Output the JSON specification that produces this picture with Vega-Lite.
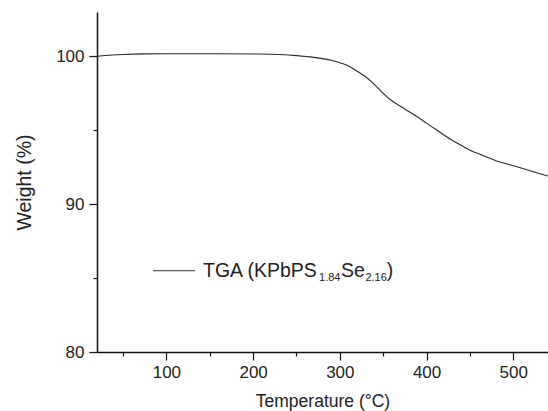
{
  "$schema": "https://vega.github.io/schema/vega-lite/v6.json",
  "width": 451,
  "height": 340,
  "autosize": {"type": "none"},
  "padding": {"left": 97, "top": 12, "right": 0, "bottom": 59},
  "background": "white",
  "config": {
    "view": {"stroke": null},
    "font": "Liberation Sans",
    "axis": {
      "grid": false,
      "domainColor": "#111",
      "domainWidth": 1.5,
      "tickColor": "#111",
      "tickWidth": 1.2,
      "labelFont": "Liberation Sans",
      "labelFontSize": 17,
      "labelColor": "#222",
      "titleFont": "Liberation Sans",
      "titleFontWeight": "normal",
      "titleColor": "#222"
    }
  },
  "datasets": {
    "tga": [
      {"temperature": 20, "weight": 100.0},
      {"temperature": 30, "weight": 100.06},
      {"temperature": 50, "weight": 100.13},
      {"temperature": 75, "weight": 100.17},
      {"temperature": 100, "weight": 100.18},
      {"temperature": 130, "weight": 100.18},
      {"temperature": 160, "weight": 100.18},
      {"temperature": 200, "weight": 100.16},
      {"temperature": 230, "weight": 100.12},
      {"temperature": 250, "weight": 100.05},
      {"temperature": 270, "weight": 99.93},
      {"temperature": 290, "weight": 99.73},
      {"temperature": 300, "weight": 99.57},
      {"temperature": 310, "weight": 99.35},
      {"temperature": 320, "weight": 98.99},
      {"temperature": 330, "weight": 98.6},
      {"temperature": 340, "weight": 98.09},
      {"temperature": 350, "weight": 97.5},
      {"temperature": 360, "weight": 97.0},
      {"temperature": 370, "weight": 96.62},
      {"temperature": 380, "weight": 96.25},
      {"temperature": 390, "weight": 95.88},
      {"temperature": 400, "weight": 95.48},
      {"temperature": 410, "weight": 95.08},
      {"temperature": 420, "weight": 94.68},
      {"temperature": 430, "weight": 94.31},
      {"temperature": 440, "weight": 93.98},
      {"temperature": 450, "weight": 93.65},
      {"temperature": 460, "weight": 93.41},
      {"temperature": 470, "weight": 93.18},
      {"temperature": 480, "weight": 92.94},
      {"temperature": 490, "weight": 92.77},
      {"temperature": 500, "weight": 92.6},
      {"temperature": 510, "weight": 92.43},
      {"temperature": 520, "weight": 92.25},
      {"temperature": 530, "weight": 92.08},
      {"temperature": 540, "weight": 91.9}
    ]
  },
  "layer": [
    {
      "data": {"name": "tga"},
      "mark": {"type": "line", "color": "#2a2a2a", "strokeWidth": 1.1, "interpolate": "monotone"},
      "encoding": {
        "x": {
          "field": "temperature",
          "type": "quantitative",
          "scale": {"domain": [20, 540], "nice": false, "zero": false},
          "axis": {
            "title": "Temperature (°C)",
            "titleFontSize": 17.5,
            "titlePadding": 12.5,
            "values": [50, 100, 150, 200, 250, 300, 350, 400, 450, 500],
            "labelExpr": "datum.value % 100 === 0 ? datum.label : ''",
            "tickSize": {"condition": {"test": "datum.value % 100 === 0", "value": 8}, "value": 4},
            "labelPadding": 4,
            "labelFlush": false,
            "labelOverlap": false
          }
        },
        "y": {
          "field": "weight",
          "type": "quantitative",
          "scale": {"domain": [80, 103], "nice": false, "zero": false},
          "axis": {
            "title": "Weight (%)",
            "titleFontSize": 19.5,
            "titlePadding": 21,
            "values": [80, 85, 90, 95, 100],
            "labelExpr": "datum.value % 10 === 0 ? datum.label : ''",
            "tickSize": {"condition": {"test": "datum.value % 10 === 0", "value": 8}, "value": 4},
            "labelPadding": 5,
            "labelFlush": false,
            "labelOverlap": false
          }
        }
      }
    },
    {
      "data": {"values": [{"series": "TGA"}]},
      "mark": {"type": "rule", "color": "#333", "strokeWidth": 1},
      "encoding": {
        "x": {"datum": 84.6, "type": "quantitative"},
        "x2": {"datum": 133.0},
        "y": {"datum": 85.5, "type": "quantitative"}
      }
    },
    {
      "data": {"values": [{"label": "TGA (KPbPS"}]},
      "mark": {"type": "text", "align": "left", "baseline": "alphabetic", "font": "Liberation Sans", "fontSize": 19.5, "color": "#222"},
      "encoding": {
        "x": {"datum": 142.2, "type": "quantitative"},
        "y": {"datum": 85.07, "type": "quantitative"},
        "text": {"field": "label"}
      }
    },
    {
      "data": {"values": [{"label": "1.84"}]},
      "mark": {"type": "text", "align": "left", "baseline": "alphabetic", "font": "Liberation Sans", "fontSize": 11, "dy": 4, "color": "#222"},
      "encoding": {
        "x": {"datum": 276.0, "type": "quantitative"},
        "y": {"datum": 85.07, "type": "quantitative"},
        "text": {"field": "label"}
      }
    },
    {
      "data": {"values": [{"label": "Se"}]},
      "mark": {"type": "text", "align": "left", "baseline": "alphabetic", "font": "Liberation Sans", "fontSize": 19.5, "color": "#222"},
      "encoding": {
        "x": {"datum": 301.3, "type": "quantitative"},
        "y": {"datum": 85.07, "type": "quantitative"},
        "text": {"field": "label"}
      }
    },
    {
      "data": {"values": [{"label": "2.16"}]},
      "mark": {"type": "text", "align": "left", "baseline": "alphabetic", "font": "Liberation Sans", "fontSize": 11, "dy": 4, "color": "#222"},
      "encoding": {
        "x": {"datum": 329.5, "type": "quantitative"},
        "y": {"datum": 85.07, "type": "quantitative"},
        "text": {"field": "label"}
      }
    },
    {
      "data": {"values": [{"label": ")"}]},
      "mark": {"type": "text", "align": "left", "baseline": "alphabetic", "font": "Liberation Sans", "fontSize": 19.5, "color": "#222"},
      "encoding": {
        "x": {"datum": 354.0, "type": "quantitative"},
        "y": {"datum": 85.07, "type": "quantitative"},
        "text": {"field": "label"}
      }
    }
  ]
}
